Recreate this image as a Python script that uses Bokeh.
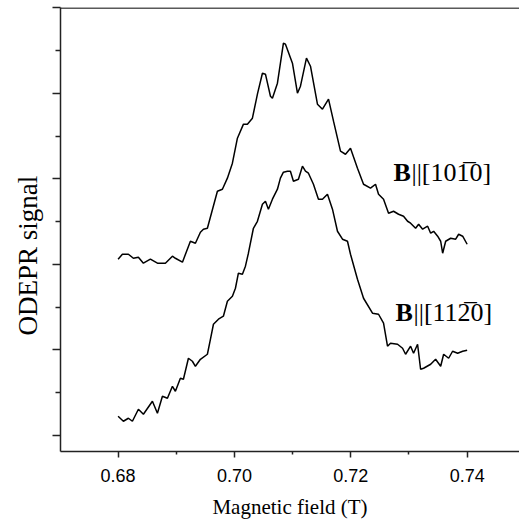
from bokeh.plotting import figure
from bokeh.models import FixedTicker, PrintfTickFormatter, Span, Label, Range1d, Title
from bokeh.embed import file_html
from bokeh.resources import INLINE

# Upper trace: B || [10-10]
field_a = [0.6800, 0.68074, 0.68177, 0.68263, 0.68349, 0.68435, 0.68555, 0.68676, 0.68813,
           0.68934, 0.68985, 0.69106, 0.69243, 0.69329, 0.69415, 0.69467, 0.69535, 0.69707,
           0.69793, 0.69879, 0.69965, 0.70051, 0.70155, 0.70223, 0.70309, 0.70395, 0.70481,
           0.70533, 0.70619, 0.70653, 0.70739, 0.70842, 0.70877, 0.70997, 0.71083, 0.71135,
           0.71238, 0.71307, 0.71427, 0.71513, 0.71617, 0.71703, 0.71823, 0.71909, 0.71995,
           0.72115, 0.72219, 0.72339, 0.72425, 0.72477, 0.72563, 0.72649, 0.72735, 0.72821,
           0.72907, 0.72976, 0.73028, 0.73114, 0.73166, 0.73235, 0.73321, 0.73373, 0.73424,
           0.73493, 0.73545, 0.73579, 0.73631, 0.73717, 0.73803, 0.73854, 0.73923, 0.7400]
signal_a = [2.060, 2.118, 2.118, 2.071, 2.083, 2.013, 2.060, 2.013, 2.013,
            2.095, 2.071, 2.025, 2.270, 2.247, 2.376, 2.411, 2.422, 2.855,
            2.879, 3.008, 3.183, 3.476, 3.640, 3.640, 3.710, 3.991, 4.236,
            4.225, 3.967, 3.944, 4.119, 4.587, 4.576, 4.353, 4.002, 4.084,
            4.412, 4.318, 3.874, 3.815, 3.932, 3.675, 3.324, 3.288, 3.359,
            3.125, 2.937, 2.891, 2.937, 2.820, 2.762, 2.598, 2.621, 2.586,
            2.563, 2.504, 2.481, 2.422, 2.469, 2.411, 2.446, 2.364, 2.387,
            2.329, 2.270, 2.130, 2.270, 2.305, 2.294, 2.352, 2.329, 2.235]

# Lower trace: B || [11-20]
field_b = [0.6800, 0.68091, 0.68177, 0.68246, 0.68349, 0.68435, 0.68590, 0.68676, 0.68762,
           0.68848, 0.68934, 0.68985, 0.69071, 0.69123, 0.69209, 0.69277, 0.69329, 0.69415,
           0.69535, 0.69587, 0.69639, 0.69725, 0.69810, 0.69879, 0.69965, 0.70017, 0.70068,
           0.70137, 0.70189, 0.70240, 0.70326, 0.70395, 0.70481, 0.70533, 0.70584, 0.70653,
           0.70739, 0.70790, 0.70842, 0.70911, 0.70962, 0.71014, 0.71100, 0.71169, 0.71221,
           0.71272, 0.71358, 0.71444, 0.71513, 0.71599, 0.71685, 0.71771, 0.71857, 0.71943,
           0.71995, 0.72115, 0.72219, 0.72373, 0.72477, 0.72563, 0.72631, 0.72683, 0.72804,
           0.72890, 0.72942, 0.73028, 0.73079, 0.73148, 0.73200, 0.73252, 0.73373, 0.73458,
           0.73545, 0.73596, 0.73682, 0.73750, 0.73837, 0.73923, 0.7400]
signal_b = [0.222, 0.164, 0.199, 0.164, 0.304, 0.246, 0.398, 0.257, 0.456,
            0.433, 0.573, 0.515, 0.667, 0.655, 0.901, 0.866, 0.807, 0.889,
            0.948, 1.123, 1.299, 1.358, 1.393, 1.568, 1.627, 1.720, 1.896,
            1.884, 1.978, 2.130, 2.422, 2.504, 2.703, 2.738, 2.645, 2.762,
            2.879, 3.008, 3.078, 3.090, 3.090, 2.972, 2.996, 3.148, 3.090,
            3.066, 2.937, 2.762, 2.762, 2.820, 2.645, 2.387, 2.294, 2.270,
            2.118, 1.826, 1.603, 1.428, 1.416, 1.311, 1.042, 1.077, 1.065,
            1.018, 0.948, 1.042, 0.960, 1.065, 0.772, 0.784, 0.831, 0.889,
            0.807, 0.948, 0.901, 0.983, 0.960, 0.983, 0.995]

x_ticks = [0.68, 0.70, 0.72, 0.74]
x_minor = [0.67, 0.69, 0.71, 0.73]
y_ticks = [0, 1, 2, 3, 4, 5]
y_minor = [0.5, 1.5, 2.5, 3.5, 4.5]

x_title = "Magnetic field (T)"
y_title = "ODEPR signal"
label_a = "||[101\u03050]"
label_b = "||[112\u03050]"

p = figure(frame_width=459, frame_height=444, output_backend="svg", toolbar_location=None,
           x_range=Range1d(0.6701, 0.7490), y_range=Range1d(-0.19, 5.005),
           min_border_left=60, min_border_right=0, min_border_top=7, min_border_bottom=71)
p.outline_line_color = None
p.background_fill_color = "white"
p.grid.visible = False

p.line(field_a, signal_a, line_color="black", line_width=1.5)
p.line(field_b, signal_b, line_color="black", line_width=1.5)

axis_col = "#222222"

ax = p.xaxis[0]
ax.ticker = FixedTicker(ticks=x_ticks, minor_ticks=x_minor)
ax.formatter = PrintfTickFormatter(format="%.2f")
ax.major_tick_out = 6
ax.major_tick_in = 0
ax.minor_tick_out = 3
ax.minor_tick_in = 0
ax.axis_line_width = 1.5
ax.axis_line_color = axis_col
ax.major_tick_line_width = 1.5
ax.minor_tick_line_width = 1.5
ax.major_tick_line_color = axis_col
ax.minor_tick_line_color = axis_col
ax.major_label_text_font = "Liberation Sans"
ax.major_label_text_font_size = "18px"
ax.major_label_text_color = "black"
ax.major_label_standoff = 11
ax.axis_label = x_title
ax.axis_label_text_font = "Liberation Serif"
ax.axis_label_text_font_size = "21px"
ax.axis_label_text_font_style = "normal"
ax.axis_label_text_color = "black"
ax.axis_label_standoff = 10

ay = p.yaxis[0]
ay.ticker = FixedTicker(ticks=y_ticks, minor_ticks=y_minor)
ay.major_tick_out = 8
ay.major_tick_in = 0
ay.minor_tick_out = 5
ay.minor_tick_in = 0
ay.axis_line_width = 1.5
ay.axis_line_color = axis_col
ay.major_tick_line_width = 1.5
ay.minor_tick_line_width = 1.5
ay.major_tick_line_color = axis_col
ay.minor_tick_line_color = axis_col
ay.major_label_text_color = None
ay.major_label_standoff = 0

p.add_layout(Title(text=y_title, align="left", offset=116, standoff=19,
                   text_font="Liberation Serif", text_font_size="27px",
                   text_font_style="normal", text_color="black"), "left")

p.add_layout(Span(location=5.0, dimension="width", line_color=axis_col, line_width=1.5))

# curve labels
for lx, ly, txt in [(0.72733, 3.08, label_a), (0.72768, 1.44, label_b)]:
    p.add_layout(Label(x=lx, y=ly, text="B", text_font="Liberation Serif", text_font_size="26px",
                       text_font_style="bold", text_baseline="alphabetic", text_color="black"))
    p.add_layout(Label(x=lx, y=ly, x_offset=18, text=txt, text_font="Liberation Serif",
                       text_font_size="26px", text_baseline="alphabetic", text_color="black"))

open("out.html", "w").write(file_html(p, INLINE))
